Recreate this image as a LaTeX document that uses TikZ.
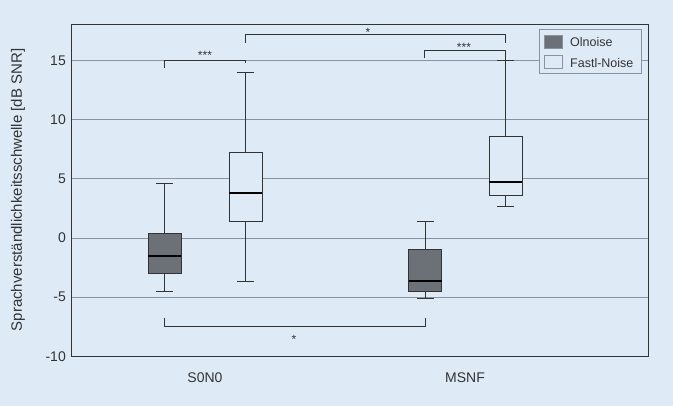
\documentclass[tikz,border=0pt]{standalone}
\usepackage{fontspec}
\setmainfont{Liberation Sans}
\definecolor{bg}{HTML}{DFEAF7}
\definecolor{grd}{HTML}{8A939E}
\definecolor{dk}{HTML}{6C7077}
\definecolor{ln}{HTML}{333333}
\begin{document}
\begin{tikzpicture}[x=1pt,y=-1pt,
  grid/.style={grd,line width=0.8pt},
  bx/.style={draw=ln,line width=0.8pt},
  wh/.style={ln,line width=0.7pt},
  med/.style={black,line width=2pt},
  br/.style={ln,line width=0.8pt},
  lbl/.style={font=\fontsize{14}{16}\selectfont,text=ln},
  star/.style={font=\fontsize{12}{13}\selectfont,text=ln}]
\fill[bg] (0,0) rectangle (673,406);
\useasboundingbox (0,0) rectangle (673,406);
\def\Y#1{238-(#1)*11.84}
% grid
\foreach \v in {-5,0,5,10,15} \draw[grid] (71,{\Y{\v}}) -- (648,{\Y{\v}});
\foreach \v in {-10,-5,0,5,10,15} \node[lbl,anchor=east,inner sep=1pt] (t\v) at (67,{\Y{\v}}) {\v};
% frame
\draw[ln,line width=0.9pt] (71,24) rectangle (648,356);
% boxes
\foreach \c/\lo/\qa/\m/\qb/\hi/\f in {164.5/-4.5/-3/-1.5/0.4/4.6/dk, 245.5/-3.7/1.4/3.8/7.2/14/bg, 425/-5.1/-4.5/-3.6/-1/1.4/dk, 505.5/2.7/3.6/4.7/8.6/15/bg}{
  \draw[wh] (\c,{\Y{\lo}}) -- (\c,{\Y{\hi}});
  \draw[wh] (\c-8.5,{\Y{\lo}}) -- (\c+8.5,{\Y{\lo}});
  \draw[wh] (\c-8.5,{\Y{\hi}}) -- (\c+8.5,{\Y{\hi}});
  \filldraw[bx,fill=\f] (\c-16.5,{\Y{\qa}}) rectangle (\c+16.5,{\Y{\qb}});
  \draw[med] (\c-16.5,{\Y{\m}}) -- (\c+16.5,{\Y{\m}});
}
% significance brackets
\draw[br] (164.5,68) -- (164.5,60) -- (245.5,60) -- (245.5,63);
\node[star] (s1) at (205,55) {***};
\draw[br] (245.5,43) -- (245.5,34) -- (505.5,34) -- (505.5,43);
\node[star] (s2) at (368,32) {*};
\draw[br] (424,58) -- (424,50) -- (505.5,50) -- (505.5,60);
\node[star] (s3) at (464,47) {***};
\draw[br] (164.5,318) -- (164.5,326) -- (425,326) -- (425,318);
\node[star] (s4) at (294,339) {*};
% x labels
\node[lbl] (x1) at (205,378) {S0N0};
\node[lbl] (x2) at (465,378) {MSNF};
\node[lbl,rotate=90,font=\fontsize{15}{17}\selectfont] (ya) at (18,190) {Sprachverständlichkeitsschwelle [dB SNR]};
% legend
\filldraw[draw=grd,fill=bg,line width=0.6pt] (539,29) rectangle (641,73);
\filldraw[draw=grd,fill=dk,line width=0.6pt] (544,35) rectangle (562,48);
\filldraw[draw=grd,fill=bg,line width=0.6pt] (544,55) rectangle (562,68);
\node[lbl,anchor=west,inner sep=1pt,font=\fontsize{12.5}{14}\selectfont] (l1) at (569,42) {Olnoise};
\node[lbl,anchor=west,inner sep=1pt,font=\fontsize{12.5}{14}\selectfont] (l2) at (569,63) {Fastl-Noise};
\end{tikzpicture}
\end{document}
